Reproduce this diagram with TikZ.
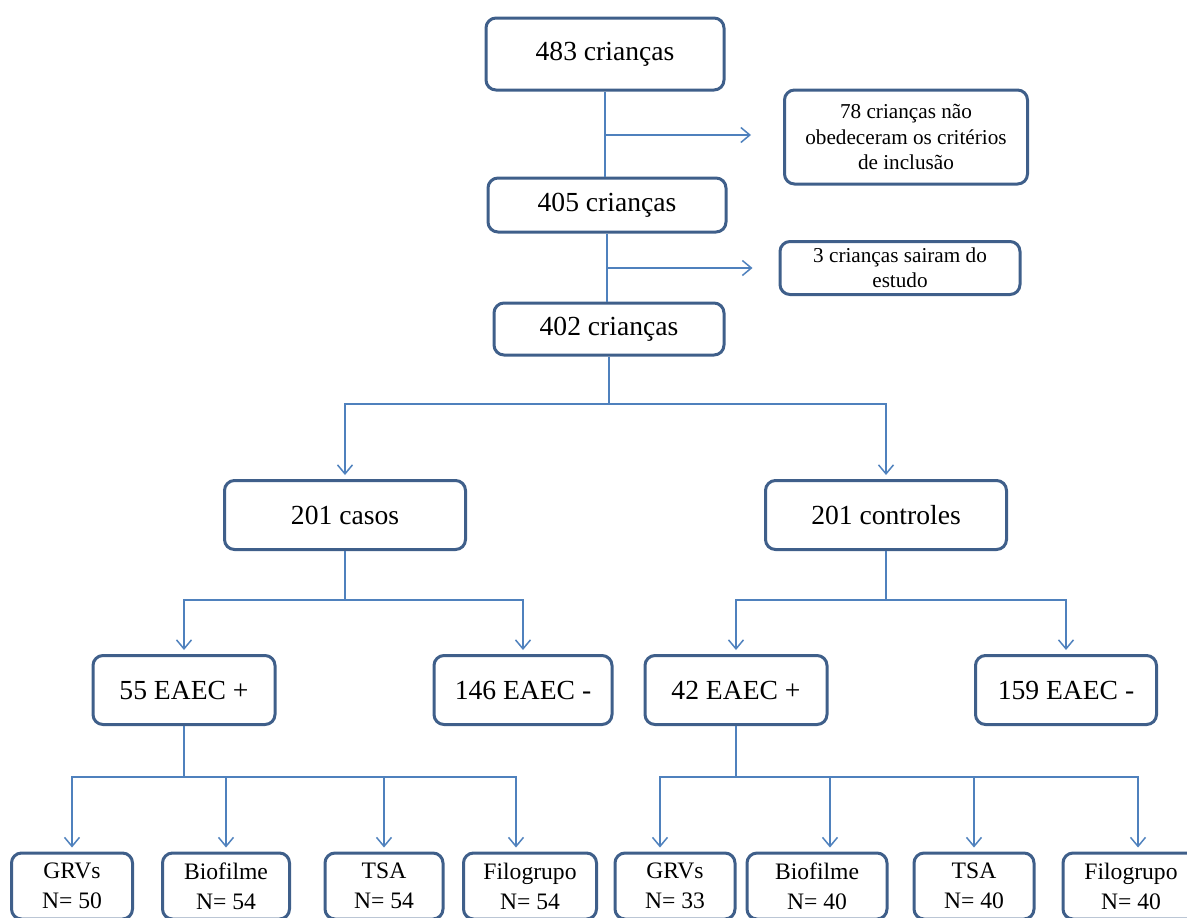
\documentclass[tikz,border=0pt]{standalone}
\usepackage{fontspec}
\setmainfont{Liberation Serif}
\usetikzlibrary{arrows.meta}
\definecolor{boxblue}{HTML}{3F5F8A}
\definecolor{lineblue}{HTML}{4F81BD}

\begin{document}
\begin{tikzpicture}[x=0.5pt,y=-0.5pt,
            box/.style={draw=boxblue,line width=1.5pt,rounded corners=5pt,fill=white,
                align=center,inner sep=1pt,font=\fontsize{13.8}{16}\selectfont},
            notebox/.style={box,font=\fontsize{10.6}{12.6}\selectfont},
            leafbox/.style={box,minimum height=33pt,font=\fontsize{11.8}{15}\selectfont},
            line/.style={lineblue,line width=0.75pt},
            arr/.style={line,-{Straight Barb[length=4.5pt,width=7.5pt]},shorten >=2pt},
        ]
        \useasboundingbox (0,0) rectangle (1187,917);
        % main column
        \node[box,minimum width=119pt,minimum height=36pt] (c483) at (605,54) {483 crianças};
        \node[box,minimum width=119pt,minimum height=27pt] (c405) at (607,205) {405 crianças};
        \node[box,minimum width=115pt,minimum height=26pt] (c402) at (609,329) {402 crianças};
        \node[notebox,minimum width=121.5pt,minimum height=47pt] (excl78) at (906,137)
            {78 crianças não\\obedeceram os critérios\\de inclusão};
        \node[notebox,minimum width=120pt,minimum height=26.5pt] (excl3) at (900,268)
            {3 crianças sairam do\\estudo};
        \draw[line] (c483.south) -- (c483.south |- c405.north);
        \draw[line] (c405.south) -- (c405.south |- c402.north);
        \draw[arr] (c483.south |- 0,135) -- ([xshift=-14pt]excl78.west |- 0,135);
        \draw[arr] (c405.south |- 0,268) -- ([xshift=-11pt]excl3.west);
        % casos / controles
        \node[box,minimum width=120.5pt,minimum height=34.5pt] (casos) at (345,515) {201 casos};
        \node[box,minimum width=120.5pt,minimum height=34.5pt] (controles) at (886,515) {201 controles};
        \coordinate (lvlA) at (0,404);
        \draw[line] (c402.south) -- (c402.south |- lvlA);
        \draw[arr] (c402.south |- lvlA) -| (casos.north);
        \draw[arr] (c402.south |- lvlA) -| (controles.north);
        % EAEC
        \node[box,minimum width=91pt,minimum height=34.5pt] (posA) at (184,690) {55 EAEC +};
        \node[box,minimum width=89pt,minimum height=34.5pt] (negA) at (523,690) {146 EAEC -};
        \node[box,minimum width=91pt,minimum height=34.5pt] (posB) at (736,690) {42 EAEC +};
        \node[box,minimum width=90.5pt,minimum height=34.5pt] (negB) at (1066,690) {159 EAEC -};
        \coordinate (lvlB) at (0,600);
        \draw[line] (casos.south) -- (casos.south |- lvlB);
        \draw[arr] (casos.south |- lvlB) -| (posA.north);
        \draw[arr] (casos.south |- lvlB) -| (negA.north);
        \draw[line] (controles.south) -- (controles.south |- lvlB);
        \draw[arr] (controles.south |- lvlB) -| (posB.north);
        \draw[arr] (controles.south |- lvlB) -| (negB.north);
        % tests, casos
        \node[leafbox,minimum width=60.5pt] (grvA) at (72,886) {GRVs\\N= 50};
        \node[leafbox,minimum width=63.5pt] (bioA) at (226,886) {Biofilme\\N= 54};
        \node[leafbox,minimum width=59pt] (tsaA) at (384,886) {TSA\\N= 54};
        \node[leafbox,minimum width=66.5pt] (filA) at (530,886) {Filogrupo\\N= 54};
        \coordinate (lvlC) at (0,777);
        \draw[line] (posA.south) -- (posA.south |- lvlC);
        \draw[arr] (posA.south |- lvlC) -| (grvA.north);
        \draw[arr] (posA.south |- lvlC) -| (bioA.north);
        \draw[arr] (posA.south |- lvlC) -| (tsaA.north);
        \draw[arr] (posA.south |- lvlC) -| ([xshift=-7pt]filA.north);
        % tests, controles
        \node[leafbox,minimum width=60pt] (grvB) at (675,886) {GRVs\\N= 33};
        \node[leafbox,minimum width=70pt] (bioB) at (817,886) {Biofilme\\N= 40};
        \node[leafbox,minimum width=60pt] (tsaB) at (974,886) {TSA\\N= 40};
        \node[leafbox,minimum width=68pt] (filB) at (1131,886) {Filogrupo\\N= 40};
        \draw[line] (posB.south) -- (posB.south |- lvlC);
        \draw[arr] (posB.south |- lvlC) -| ([xshift=-7.5pt]grvB.north);
        \draw[arr] (posB.south |- lvlC) -| ([xshift=6.5pt]bioB.north);
        \draw[arr] (posB.south |- lvlC) -| (tsaB.north);
        \draw[arr] (posB.south |- lvlC) -| ([xshift=3.5pt]filB.north);
    \end{tikzpicture}
\end{document}
